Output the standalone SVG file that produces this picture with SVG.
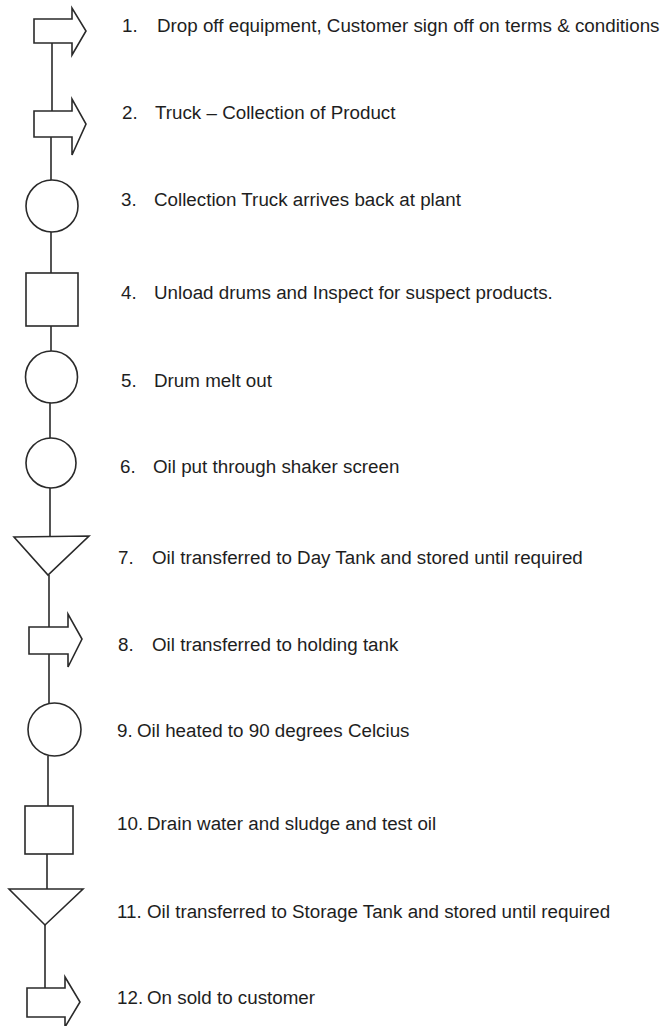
<svg xmlns="http://www.w3.org/2000/svg" width="661" height="1026" viewBox="0 0 661 1026">
<style>
.s{fill:#ffffff;stroke:#2a2a2a;stroke-width:1.6;stroke-linejoin:miter}
.c{fill:none;stroke:#2a2a2a;stroke-width:1.6}
.t{font-family:"Liberation Sans",Arial,sans-serif;font-size:18.8px;fill:#1e1e1e}
</style>
<rect width="661" height="1026" fill="#ffffff"/>
<g id="connectors">
<line class="c" x1="52" y1="43" x2="52" y2="111"/>
<line class="c" x1="51" y1="137" x2="51" y2="180"/>
<line class="c" x1="51" y1="232" x2="51" y2="273"/>
<line class="c" x1="51" y1="326" x2="51" y2="351"/>
<line class="c" x1="50" y1="403" x2="50" y2="438"/>
<line class="c" x1="50" y1="488" x2="50" y2="537"/>
<line class="c" x1="49" y1="575" x2="49" y2="627"/>
<line class="c" x1="49" y1="654" x2="49" y2="704"/>
<line class="c" x1="48" y1="756" x2="48" y2="806"/>
<line class="c" x1="47" y1="854" x2="47" y2="889"/>
<line class="c" x1="45" y1="925" x2="45" y2="988"/>
</g>
<g id="step1">
<path class="s" d="M72,19 L34,19 L34,43 L72,43 L72,55 L86,31 L72,8 Z"/>
<text class="t" x="122" y="32">1.</text>
<text class="t" x="157" y="32">Drop off equipment, Customer sign off on terms &amp; conditions</text>
</g>
<g id="step2">
<path class="s" d="M72,111 L34,111 L34,137 L72,137 L72,155 L86,124 L72,99 Z"/>
<text class="t" x="122" y="119">2.</text>
<text class="t" x="155" y="119">Truck – Collection of Product</text>
</g>
<g id="step3">
<circle class="s" cx="52" cy="206" r="26"/>
<text class="t" x="121" y="206">3.</text>
<text class="t" x="154" y="206">Collection Truck arrives back at plant</text>
</g>
<g id="step4">
<rect class="s" x="26" y="273" width="52" height="53"/>
<text class="t" x="121" y="299">4.</text>
<text class="t" x="154" y="299">Unload drums and Inspect for suspect products.</text>
</g>
<g id="step5">
<circle class="s" cx="51.5" cy="377" r="26"/>
<text class="t" x="121" y="387">5.</text>
<text class="t" x="154" y="387">Drum melt out</text>
</g>
<g id="step6">
<circle class="s" cx="51" cy="463" r="25"/>
<text class="t" x="120" y="473">6.</text>
<text class="t" x="153" y="473">Oil put through shaker screen</text>
</g>
<g id="step7">
<path class="s" d="M14,537 L89,536 L48,575 Z"/>
<text class="t" x="118" y="564">7.</text>
<text class="t" x="152" y="564">Oil transferred to Day Tank and stored until required</text>
</g>
<g id="step8">
<path class="s" d="M68,627 L29,627 L29,654 L68,654 L68,667 L82,639 L68,614 Z"/>
<text class="t" x="118" y="651">8.</text>
<text class="t" x="152" y="651">Oil transferred to holding tank</text>
</g>
<g id="step9">
<circle class="s" cx="54.5" cy="729.5" r="26.5"/>
<text class="t" x="117" y="737">9.</text>
<text class="t" x="137" y="737">Oil heated to 90 degrees Celcius</text>
</g>
<g id="step10">
<rect class="s" x="25" y="806" width="48" height="48"/>
<text class="t" x="117" y="830">10.</text>
<text class="t" x="147" y="830">Drain water and sludge and test oil</text>
</g>
<g id="step11">
<path class="s" d="M9,889 L83,889 L45,925 Z"/>
<text class="t" x="117" y="918">11.</text>
<text class="t" x="147" y="918">Oil transferred to Storage Tank and stored until required</text>
</g>
<g id="step12">
<path class="s" d="M65,988 L27,988 L27,1017 L65,1017 L65,1027 L80,1002 L65,977 Z"/>
<text class="t" x="117" y="1004">12.</text>
<text class="t" x="147" y="1004">On sold to customer</text>
</g>
</svg>
